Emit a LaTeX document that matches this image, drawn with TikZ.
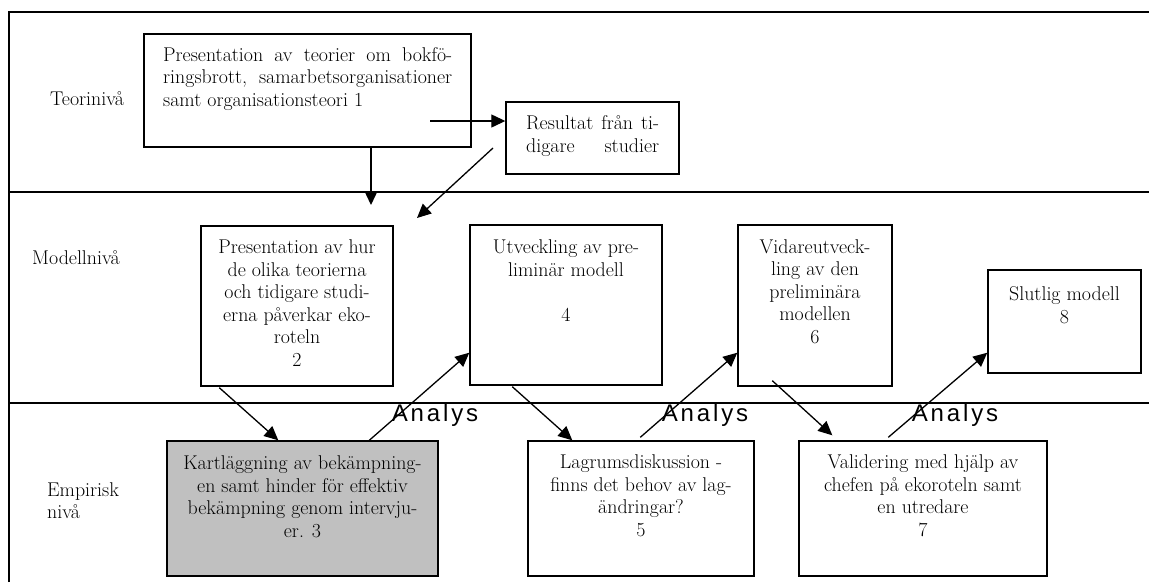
\documentclass[tikz,border=0pt]{standalone}
\usepackage{fontspec}
\newfontfamily\analysfont[LetterSpace=12]{Liberation Sans}
\usetikzlibrary{arrows.meta,calc}

\begin{document}
\begin{tikzpicture}[x=1pt,y=-1pt,
  box/.style={draw, line width=1.4pt, inner sep=0pt},
  txt/.style={inner sep=0pt, align=center, font=\fontsize{19.9}{22.5}\selectfont},
  lvl/.style={inner sep=0pt, align=left, font=\fontsize{19.9}{22}\selectfont},
  arr/.style={-{Triangle[length=14pt,width=13pt]}, line width=1.3pt},
  lbl/.style={inner sep=0pt, font=\analysfont\fontsize{24}{26}\selectfont}
]
\useasboundingbox (0,0) rectangle (1149,582);

% level frame
\draw[line width=1.3pt] (9,582) -- (9,12) -- (1149,12);
\draw[line width=1.3pt] (9,192) -- (1149,192);
\draw[line width=1.3pt] (9,403) -- (1149,403);

% level names (anchored at the baseline of the last line)
\node[lvl, anchor=base west] (tn) at (50,105) {Teorinivå};
\node[lvl, anchor=base west] (mn) at (32,264) {Modellnivå};
\node[lvl, anchor=base west] (en) at (47,518) {Empirisk\\nivå};

% boxes
\node[box, minimum width=327, minimum height=113] (b1) at (307.5,90.5) {};
\node[box, minimum width=173, minimum height=72] (res) at (592.5,138) {};
\node[box, minimum width=192, minimum height=160] (b2) at (297,306) {};
\node[box, minimum width=192, minimum height=160] (b4) at (566,305) {};
\node[box, minimum width=154, minimum height=161] (b6) at (815,305.5) {};
\node[box, minimum width=153, minimum height=103] (b8) at (1064.5,321.5) {};
\node[box, fill={rgb,255:red,192;green,192;blue,192}, minimum width=271, minimum height=135] (b3) at (302.5,508.5) {};
\node[box, minimum width=226, minimum height=135] (b5) at (641,508.5) {};
\node[box, minimum width=248, minimum height=135] (b7) at (923,508.5) {};

% box texts (anchored at the baseline of the last line)
\node[txt, align=left, anchor=base west] (t1) at (163,106)
  {\makebox[289pt][s]{Presentation av teorier om bokfö-}\\
   \makebox[289pt][s]{ringsbrott, samarbetsorganisationer}\\
   samt organisationsteori 1};
\node[txt, align=left, anchor=base west] (tres) at (526,152)
  {\makebox[133pt][s]{Resultat från ti-}\\
   \makebox[133pt][s]{digare studier}};
\node[txt, anchor=base] (t2) at (297,366)
  {Presentation av hur\\de olika teorierna\\och tidigare studi-\\erna påverkar eko-\\roteln\\2};
\node[txt, anchor=base] (t4) at (566,321)
  {Utveckling av pre-\\liminär modell\\[22.5pt]4};
\node[txt, anchor=base] (t6) at (815,343)
  {Vidareutveck-\\ling av den\\preliminära\\modellen\\6};
\node[txt, anchor=base] (t8) at (1064.5,323)
  {Slutlig modell\\8};
\node[txt, anchor=base] (t3) at (302.5,537)
  {Kartläggning av bekämpning-\\en samt hinder för effektiv\\bekämpning genom intervju-\\er. 3};
\node[txt, anchor=base] (t5) at (641,536)
  {Lagrumsdiskussion -\\finns det behov av lag-\\ändringar?\\5};
\node[txt, anchor=base] (t7) at (923,536)
  {Validering med hjälp av\\chefen på ekoroteln samt\\en utredare\\7};

% loose arrow ends
\coordinate (p1) at (430,121);
\coordinate (p2) at (371,205);
\coordinate (p3) at (493,148);
\coordinate (p4) at (417,218);

% connectors
\draw[arr] (p1) -- (p1 -| res.west);
\draw[arr] (b1.south -| p2) -- (p2);
\draw[arr] (p3) -- (p4);
\draw[arr] ($(b2.south west)+(19,1)$) -- ($(b3.north west)+(112,0)$);
\draw[arr] ($(b3.north west)+(203,0)$) -- ($(b4.south west)+(0,-33)$);
\draw[arr] ($(b4.south west)+(43,1)$) -- ($(b5.north west)+(45,0)$);
\draw[arr] ($(b5.north west)+(113,-3)$) -- ($(b6.south west)+(0,-34)$);
\draw[arr] ($(b6.south west)+(35,-6)$) -- ($(b7.north west)+(34,-5)$);
\draw[arr] ($(b7.north west)+(90,-3)$) -- ($(b8.south west)+(0,-21)$);

% analysis labels
\node[lbl] (a1) at (435,415) {Analys};
\node[lbl] (a2) at (705,415) {Analys};
\node[lbl] (a3) at (955,415) {Analys};
\end{tikzpicture}
\end{document}
